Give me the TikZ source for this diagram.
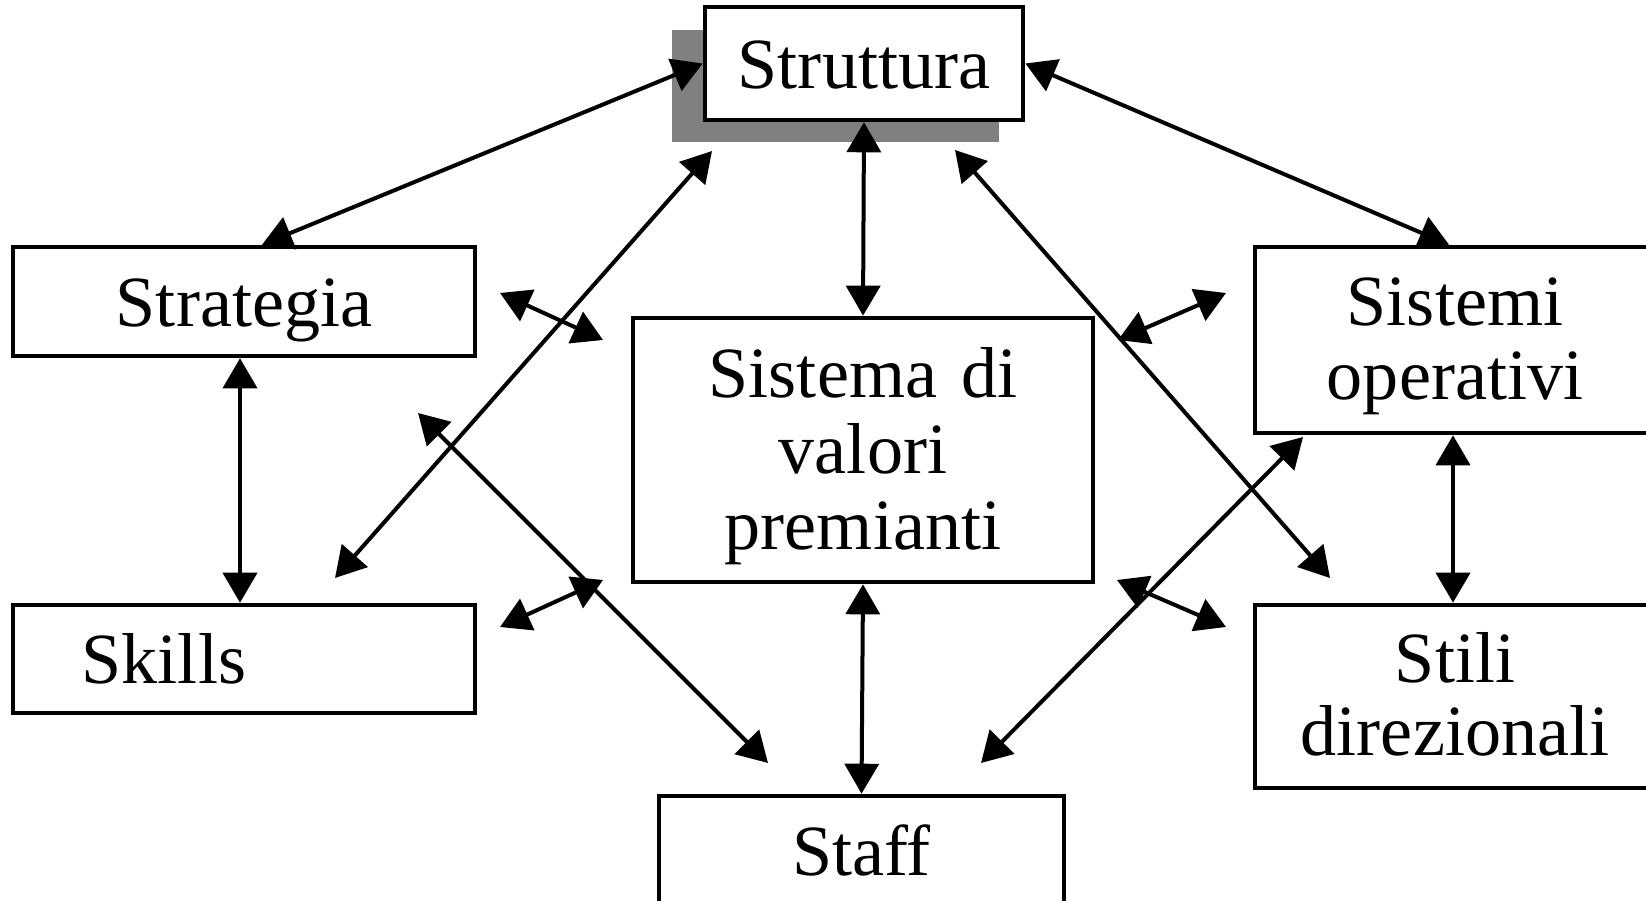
\documentclass[tikz,border=0pt]{standalone}
\usepackage{fontspec}
\setmainfont{Liberation Serif}
\usetikzlibrary{arrows.meta}
\tikzset{box/.style={rectangle, draw, line width=0.045cm, fill=white, inner sep=0pt,
   font=\fontsize{20.5}{23}\selectfont, align=center, text height=14pt, text depth=0pt}}
\tikzset{three/.style={text width=3.6cm, font=\fontsize{20.5}{21.6}\selectfont, text depth=43.6pt}}
\tikzset{two/.style={text width=3.6cm, font=\fontsize{20.5}{20.8}\selectfont, text depth=22pt}}
\tikzset{dar/.style={{Triangle[length=0.3cm,width=0.34cm]}-{Triangle[length=0.3cm,width=0.34cm]},
   line width=0.04cm}}

\begin{document}
\begin{tikzpicture}[x=0.01cm, y=-0.01cm]

    \useasboundingbox (0,0) rectangle (1646,901);

    \fill[black!50] (672,30) rectangle (999,142);
    \node[box, minimum width=3.18cm, minimum height=1.13cm] (stru) at (864,63.5) {Struttura};

    \node[box, minimum width=4.62cm, minimum height=1.09cm] (str) at (244,301.5) {Strategia};
    \node[box, minimum width=4.62cm, minimum height=1.08cm] (skl) at (244,659) {Skills\hspace{1.6cm}};
    \node[box, three, minimum width=4.60cm, minimum height=2.64cm] (val) at (863,450) {Sistema di\\valori\\premianti};
    \node[box, two, minimum width=4.00cm, minimum height=1.86cm] (sop) at (1455,340) {Sistemi\\operativi};
    \node[box, two, minimum width=4.00cm, minimum height=1.83cm] (sti) at (1455,696.5) {Stili\\direzionali};
    \node[box, minimum width=4.05cm, minimum height=1.09cm] (sta) at (861.5,850.5) {Staff};

    % ends of the crossing arrows
    \coordinate (stru-sw) at (712,151);
    \coordinate (skl-ne) at (335,578);
    \coordinate (stru-se) at (955,150);
    \coordinate (sti-nw) at (1330,578);
    \coordinate (str-se) at (418,413);
    \coordinate (sta-nw) at (768,763);
    \coordinate (sop-sw) at (1303,437);
    \coordinate (sta-ne) at (981,763);

    \draw[dar] (stru.west) -- ([xshift=0.18cm]str.north);
    \draw[dar] (stru.east) -- ([xshift=-0.06cm]sop.north);
    \draw[dar] (stru.south) -- (val.north);
    \draw[dar] (val.south) -- (sta.north);
    \draw[dar] ([xshift=-0.04cm]str.south) -- ([xshift=-0.04cm]skl.north);
    \draw[dar] ([xshift=-0.02cm]sop.south) -- ([xshift=-0.02cm]sti.north);

    \draw[dar] (stru-sw) -- (skl-ne);
    \draw[dar] (stru-se) -- (sti-nw);
    \draw[dar] (str-se) -- (sta-nw);
    \draw[dar] (sop-sw) -- (sta-ne);

    % short arrows
    \coordinate (tl1) at (500,293); \coordinate (tl2) at (603,340);
    \coordinate (bl1) at (500,627); \coordinate (bl2) at (603,580);
    \coordinate (tr1) at (1118,340); \coordinate (tr2) at (1226,293);
    \coordinate (br1) at (1117,580); \coordinate (br2) at (1226,627);
    \draw[dar] (tl1) -- (tl2);
    \draw[dar] (bl1) -- (bl2);
    \draw[dar] (tr1) -- (tr2);
    \draw[dar] (br1) -- (br2);

  \end{tikzpicture}
\end{document}
